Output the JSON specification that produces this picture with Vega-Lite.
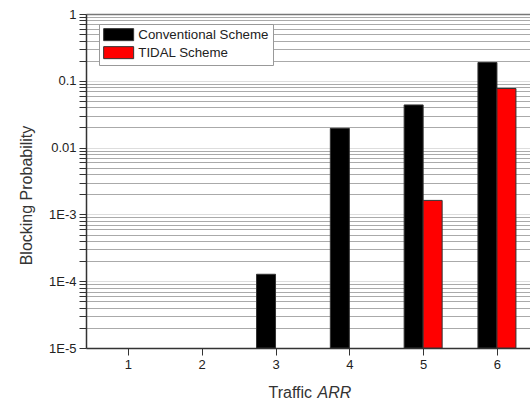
{
  "$schema": "https://vega.github.io/schema/vega-lite/v6.json",
  "width": 444,
  "height": 334,
  "autosize": {"type": "none"},
  "padding": {"left": 86, "top": 14, "right": 0, "bottom": 53},
  "background": "white",
  "config": {
    "view": {"stroke": null},
    "font": "Liberation Sans",
    "axis": {"labelFont": "Liberation Sans", "titleFont": "Liberation Sans", "labelColor": "#222", "titleColor": "#333", "titleFontWeight": "normal"}
  },
  "data": {
    "values": [
      {"traffic": 3, "scheme": "Conventional Scheme", "p": 0.000127},
      {"traffic": 4, "scheme": "Conventional Scheme", "p": 0.0194},
      {"traffic": 5, "scheme": "Conventional Scheme", "p": 0.0435},
      {"traffic": 5, "scheme": "TIDAL Scheme", "p": 0.00162},
      {"traffic": 6, "scheme": "Conventional Scheme", "p": 0.188},
      {"traffic": 6, "scheme": "TIDAL Scheme", "p": 0.0767}
    ]
  },
  "encoding": {
    "y": {
      "field": "p", "type": "quantitative",
      "scale": {"type": "log", "domain": [0.00001, 1], "nice": false},
      "axis": {
        "values": [0.00001, 0.00002, 0.00003, 0.00004, 0.00005, 0.00006, 0.00007, 0.00008, 0.00009,
                   0.0001, 0.0002, 0.0003, 0.0004, 0.0005, 0.0006, 0.0007, 0.0008, 0.0009,
                   0.001, 0.002, 0.003, 0.004, 0.005, 0.006, 0.007, 0.008, 0.009,
                   0.01, 0.02, 0.03, 0.04, 0.05, 0.06, 0.07, 0.08, 0.09,
                   0.1, 0.2, 0.3, 0.4, 0.5, 0.6, 0.7, 0.8, 0.9, 1],
        "labelExpr": "datum.value == 1 ? '1' : datum.value == 0.1 ? '0.1' : datum.value == 0.01 ? '0.01' : datum.value == 0.001 ? '1E-3' : datum.value == 0.0001 ? '1E-4' : datum.value == 0.00001 ? '1E-5' : ''",
        "labelFontSize": 13,
        "labelPadding": 3,
        "tickSize": 7,
        "tickColor": "#333",
        "domainColor": "#333",
        "domainWidth": 1.5,
        "grid": true,
        "gridDash": [1, 1],
        "gridColor": {"condition": {"test": "datum.value == 1 || datum.value == 0.1 || datum.value == 0.01 || datum.value == 0.001 || datum.value == 0.0001 || datum.value == 0.00001", "value": "#bbbbbb"}, "value": "#555555"},
        "title": "Blocking Probability",
        "titleFontSize": 16,
        "titleX": -55,
        "titleY": 181,
        "titleAlign": "center",
        "titleBaseline": "alphabetic",
        "titleAngle": 270
      }
    },
    "y2": {"datum": 0.00001},
    "color": {
      "field": "scheme", "type": "nominal",
      "scale": {"domain": ["Conventional Scheme", "TIDAL Scheme"], "range": ["#000000", "#ff0000"]},
      "legend": {
        "title": null,
        "orient": "none",
        "legendX": 13,
        "legendY": 10,
        "direction": "vertical",
        "symbolType": "M-2.5,-1H2.5V1H-2.5Z",
        "symbolSize": 144,
        "symbolOffset": 9,
        "symbolStrokeColor": "#333",
        "symbolStrokeWidth": 1,
        "symbolOpacity": 1,
        "labelFontSize": 13.3,
        "labelColor": "#222",
        "labelFont": "Liberation Sans",
        "labelOffset": 13,
        "rowPadding": 1,
        "padding": 4,
        "strokeColor": "#999",
        "fillColor": "white"
      }
    }
  },
  "layer": [
    {
      "transform": [{"filter": "datum.scheme == 'Conventional Scheme'"}],
      "mark": {"type": "bar", "width": 19, "xOffset": -9.5, "stroke": "#333", "strokeWidth": 1},
      "encoding": {
        "x": {
          "field": "traffic", "type": "quantitative",
          "scale": {"domain": [0.5, 6.38], "nice": false, "zero": false},
          "axis": {
            "orient": "bottom",
            "values": [1, 2, 3, 4, 5, 6],
            "grid": false,
            "labelFontSize": 13,
            "labelPadding": 3,
            "tickSize": 7,
            "tickColor": "#333",
            "domainColor": "#333",
            "domainWidth": 1.5,
            "title": "Traffic",
            "titleFontSize": 16,
            "titleX": 182,
            "titleY": 49,
            "titleAlign": "left",
            "titleBaseline": "alphabetic"
          }
        }
      }
    },
    {
      "transform": [{"filter": "datum.scheme == 'TIDAL Scheme'"}],
      "mark": {"type": "bar", "width": 19, "xOffset": 9.5, "stroke": "#333", "strokeWidth": 1},
      "encoding": {
        "x": {
          "field": "traffic", "type": "quantitative",
          "scale": {"domain": [0.5, 6.38], "nice": false, "zero": false},
          "axis": {
            "orient": "top",
            "values": [1, 2, 3, 4, 5, 6],
            "grid": false,
            "labels": false,
            "ticks": false,
            "domainColor": "#777",
            "domainWidth": 1.5,
            "title": "ARR",
            "titleFontSize": 16,
            "titleFontStyle": "italic",
            "titleX": 231,
            "titleY": 383,
            "titleAlign": "left",
            "titleBaseline": "alphabetic"
          }
        }
      }
    }
  ],
  "resolve": {"axis": {"x": "independent"}}
}
